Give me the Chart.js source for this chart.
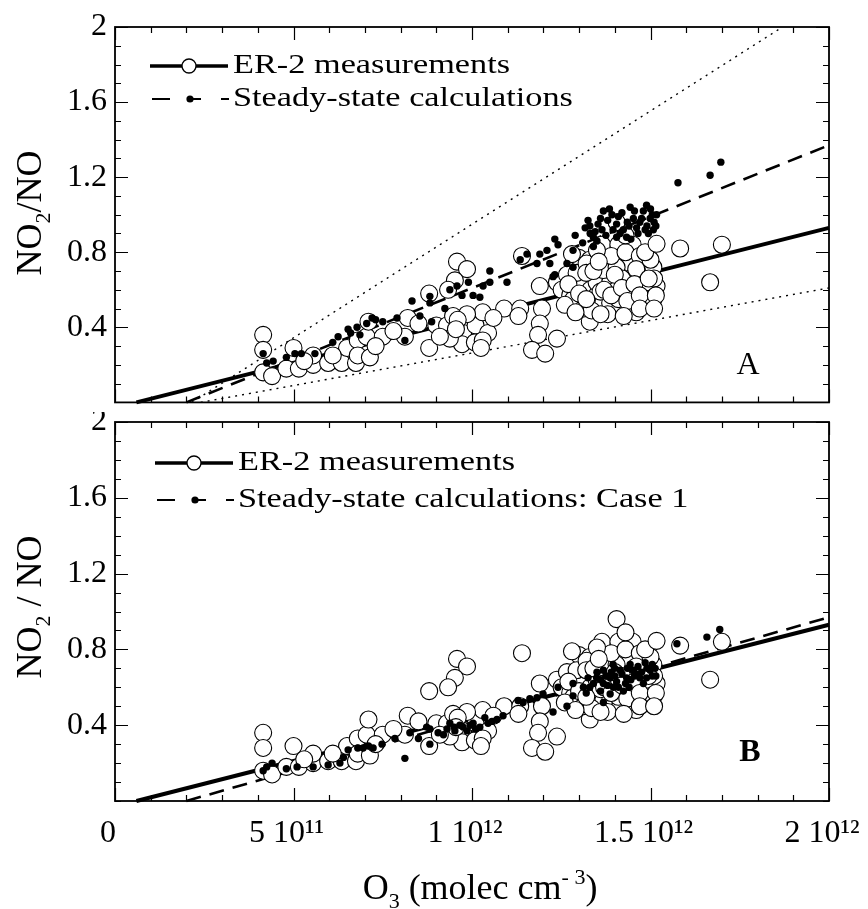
<!DOCTYPE html>
<html><head><meta charset="utf-8">
<script src="https://cdn.jsdelivr.net/npm/chart.js@4.4.1/dist/chart.umd.min.js"></script>
<style>
html,body{margin:0;padding:0;background:#fff;}
#wrap{position:relative;width:868px;height:909px;overflow:hidden;}
canvas{position:absolute;left:0;}
</style></head><body>
<div id="wrap">
<canvas id="cA" width="868" height="412" style="top:0;width:868px;height:412px"></canvas>
<canvas id="cB" width="868" height="497" style="top:412px;width:868px;height:497px"></canvas>
</div>
<script>
// ---------- DATA ----------
// O3 (molec cm-3) and NO2/NO, ER-2 measurements (same in both panels)
const er2X = [4.15e11,4.15e11,4.15e11,4.4e11,5.0e11,4.8e11,5.15e11,5.55e11,5.55e11,5.97e11,6.35e11,6.5e11,6.75e11,6.8e11,7.05e11,7.1e11,6.8e11,7.14e11,7.5e11,8.12e11,8.2e11,8.5e11,8.8e11,8.8e11,5.3e11,6.1e11,7.3e11,7.8e11,
  9.0e11,9.3e11,9.75e11,10.1e11,10.45e11,9.72e11,10.08e11,9.38e11,10.3e11,9.86e11,9.47e11,9.58e11,9.86e11,9.52e11,9.33e11,10.9e11,9.1e11,9.6e11,10.3e11,10.6e11,10.25e11,9.55e11,
  11.35e11,11.3e11,11.4e11,11.96e11,11.9e11,11.85e11,11.68e11,12.05e11,12.38e11,11.9e11,12.38e11,12.66e11,
  13.0e11,13.3e11,13.3e11,12.51e11,12.75e11,12.93e11,13.12e11,13.31e11,13.49e11,13.68e11,13.49e11,13.87e11,14.05e11,14.24e11,14.43e11,14.61e11,14.8e11,14.99e11,15.17e11,14.89e11,15.08e11,14.43e11,14.52e11,13.68e11,14.05e11,13.87e11,14.15e11,14.43e11,14.8e11,15.08e11,12.93e11,13.21e11,12.84e11,13.12e11,13.35e11,14.89e11,14.05e11,13.64e11,14.1e11,14.5e11,12.8e11,
  13.9e11,14.3e11,14.7e11,13.6e11,14.2e11,14.6e11,15.0e11,13.8e11,14.1e11,14.6e11,13.2e11,12.6e11,15.1e11,14.3e11,13.5e11,
  12.7e11,13.0e11,13.2e11,13.4e11,13.7e11,13.9e11,14.0e11,14.2e11,14.35e11,14.55e11,14.7e11,14.95e11,15.15e11,13.6e11,14.25e11,14.7e11,12.9e11,13.55e11,14.85e11,15.1e11,
  15.17e11,15.83e11,17.0e11,16.67e11];
const er2Y = [0.36,0.28,0.16,0.14,0.29,0.18,0.18,0.20,0.25,0.21,0.21,0.29,0.21,0.33,0.35,0.43,0.25,0.24,0.35,0.35,0.45,0.42,0.58,0.29,0.22,0.25,0.30,0.38,
  0.41,0.41,0.37,0.41,0.37,0.31,0.32,0.34,0.48,0.47,0.46,0.75,0.71,0.65,0.60,0.50,0.35,0.44,0.33,0.45,0.29,0.39,
  0.50,0.46,0.78,0.50,0.42,0.36,0.28,0.26,0.34,0.62,0.64,0.68,
  0.77,0.76,0.43,0.60,0.57,0.62,0.64,0.60,0.57,0.53,0.64,0.64,0.60,0.57,0.62,0.585,0.62,0.585,0.62,0.69,0.72,0.74,0.67,0.705,0.72,0.53,0.50,0.51,0.53,0.55,0.69,0.74,0.55,0.50,0.49,0.64,0.96,0.84,0.84,0.84,0.79,
  0.78,0.80,0.78,0.59,0.66,0.71,0.76,0.47,0.55,0.48,0.69,0.52,0.66,0.89,0.81,
  0.63,0.58,0.55,0.70,0.60,0.57,0.68,0.61,0.54,0.63,0.57,0.66,0.57,0.47,0.46,0.50,0.48,0.75,0.80,0.50,
  0.845,0.82,0.84,0.64];
// Steady-state calculations, panel A
const ssAX = [4.15e11,4.25e11,4.43e11,4.8e11,5.04e11,5.22e11,5.6e11,6.1e11,6.25e11,6.53e11,6.78e11,6.86e11,7.05e11,7.2e11,7.5e11,7.9e11,8.12e11,8.32e11,8.54e11,8.82e11,8.87e11,8.82e11,6.6e11,7.3e11,
  9.38e11,9.24e11,9.58e11,9.72e11,9.9e11,10.03e11,10.22e11,10.31e11,10.5e11,10.5e11,10.98e11,
  11.35e11,11.54e11,11.82e11,11.9e11,12.1e11,12.18e11,12.32e11,12.41e11,12.32e11,12.89e11,12.83e11,12.66e11,
  13.17e11,13.25e11,13.31e11,13.53e11,13.68e11,13.64e11,13.92e11,13.95e11,14.05e11,14.24e11,14.33e11,14.43e11,14.52e11,14.61e11,14.8e11,14.89e11,14.99e11,15.08e11,15.17e11,14.94e11,14.05e11,13.5e11,13.4e11,12.83e11,12.27e11,
  13.8e11,14.2e11,14.7e11,15.0e11,14.4e11,13.4e11,14.9e11,15.1e11,13.1e11,
  13.3e11,13.6e11,13.75e11,14.1e11,14.15e11,14.35e11,14.55e11,14.65e11,14.75e11,14.85e11,15.05e11,15.15e11,13.85e11,14.45e11,13.45e11,
  15.77e11,16.67e11,16.97e11];
const ssAY = [0.26,0.21,0.22,0.24,0.26,0.26,0.26,0.32,0.35,0.39,0.40,0.36,0.42,0.45,0.43,0.45,0.33,0.54,0.46,0.565,0.43,0.53,0.37,0.44,
  0.60,0.50,0.62,0.57,0.64,0.57,0.56,0.62,0.70,0.64,0.64,
  0.76,0.79,0.74,0.79,0.81,0.74,0.68,0.84,0.87,0.89,0.81,0.74,
  0.93,0.97,0.90,0.95,1.02,0.92,1.00,0.92,0.95,0.92,0.88,1.04,0.98,0.93,1.02,1.05,0.98,0.92,1.00,0.90,0.88,0.86,0.83,0.72,0.67,
  0.97,1.01,0.96,1.03,0.94,0.88,0.94,0.96,0.85,
  0.94,0.98,0.89,0.99,0.90,0.96,1.02,0.90,0.98,0.92,1.00,0.94,1.03,0.87,0.91,
  1.17,1.21,1.28];
// Steady-state calculations: Case 1, panel B
const ssBX = [4.15e11,4.25e11,4.4e11,4.8e11,5.1e11,5.55e11,5.97e11,6.3e11,6.4e11,6.53e11,6.8e11,6.95e11,7.1e11,7.23e11,7.48e11,8.12e11,7.84e11,8.26e11,8.5e11,8.73e11,8.82e11,
  8.82e11,9.2e11,9.38e11,9.52e11,9.66e11,9.86e11,10.03e11,10.22e11,10.36e11,10.56e11,10.87e11,9.5e11,10.1e11,10.7e11,9.3e11,9.75e11,9.95e11,10.45e11,9.05e11,
  11.29e11,11.43e11,11.62e11,11.82e11,11.99e11,12.27e11,12.41e11,12.66e11,12.83e11,12.83e11,
  13.12e11,13.25e11,13.4e11,13.68e11,13.68e11,13.68e11,13.87e11,13.96e11,14.05e11,14.15e11,14.24e11,14.33e11,14.43e11,14.52e11,14.7e11,14.85e11,14.99e11,15.13e11,14.89e11,13.87e11,13.49e11,
  13.9e11,14.3e11,14.6e11,14.0e11,13.6e11,14.8e11,15.05e11,
  13.3e11,13.5e11,13.6e11,13.75e11,13.8e11,14.0e11,14.1e11,14.2e11,14.35e11,14.45e11,14.55e11,14.65e11,14.75e11,14.9e11,15.05e11,15.15e11,14.4e11,13.95e11,13.2e11,
  15.74e11,16.58e11,16.94e11];
const ssBY = [0.16,0.18,0.20,0.17,0.18,0.18,0.19,0.20,0.23,0.27,0.28,0.28,0.29,0.28,0.30,0.225,0.33,0.36,0.33,0.39,0.30,
  0.38,0.35,0.41,0.37,0.40,0.37,0.41,0.39,0.44,0.42,0.45,0.39,0.38,0.43,0.38,0.39,0.40,0.41,0.36,
  0.53,0.52,0.54,0.545,0.565,0.47,0.60,0.50,0.555,0.62,
  0.60,0.65,0.62,0.69,0.62,0.52,0.65,0.60,0.63,0.69,0.58,0.65,0.72,0.69,0.65,0.73,0.69,0.70,0.65,0.565,0.65,
  0.68,0.62,0.67,0.70,0.58,0.62,0.66,
  0.60,0.68,0.64,0.66,0.61,0.66,0.60,0.67,0.70,0.64,0.66,0.71,0.68,0.70,0.72,0.66,0.60,0.72,0.57,
  0.83,0.865,0.905];
// Fitted / bounding lines (end points)
const er2FitX = [0.6e11, 2e12],  er2FitY = [0, 0.93];
const ssAFitX = [2.0e11, 2e12],  ssAFitY = [0, 1.37];
const ssBFitX = [2.0e11, 2e12],  ssBFitY = [0, 0.97];
const upperX  = [2.15e11, 1.87e12], upperY = [0, 2.0];
const lowerX  = [2.4e11, 2e12],  lowerY = [0, 0.61];
// Axis ticks
const xMajorValues = [0, 5e11, 1e12, 1.5e12, 2e12];
const xTickLabels  = ['0', '5 10\u00B9\u00B9', '1 10\u00B9\u00B2', '1.5 10\u00B9\u00B2', '2 10\u00B9\u00B2'];
const yMajorValues = [0.4, 0.8, 1.2, 1.6, 2];
const yTickLabels  = ['0.4', '0.8', '1.2', '1.6', '2'];

// ---------- HELPERS ----------
const SERIF = "'Liberation Serif','Times New Roman',serif";
const pts = (xs, ys) => xs.map((x, i) => ({x, y: ys[i]}));
const near = (a, b, tol) => Math.abs(a - b) < tol;
function isMajor(v, list, tol) { return list.some(m => near(v, m, tol)); }

function lineDs(xs, ys, width, dash, order) {
  return {data: pts(xs, ys), showLine: true, pointRadius: 0, borderColor: '#000',
          borderWidth: width, borderDash: dash, fill: false, order: order, clip: false};
}
function circleDs(xs, ys) {
  return {data: pts(xs, ys), pointRadius: 8.5, pointBorderWidth: 1.1, pointBackgroundColor: '#fff',
          pointBorderColor: '#000', showLine: false, order: 3};
}
function dotDs(xs, ys) {
  return {data: pts(xs, ys), pointRadius: 3.7, pointBorderWidth: 0, pointBackgroundColor: '#000',
          pointBorderColor: '#000', showLine: false, order: 1};
}

function drawScaledText(ctx, text, x, y, size, sx) {
  ctx.save();
  ctx.font = size + 'px ' + SERIF;
  ctx.textBaseline = 'middle';
  ctx.textAlign = 'left';
  ctx.translate(x, y);
  ctx.scale(sx, 1);
  ctx.fillText(text, 0, 0);
  ctx.restore();
}

function framePlugin(opts) {
  return {
    id: 'frame' + opts.id,
    afterDraw(chart) {
      const {ctx, chartArea: a} = chart;
      const xs = chart.scales.x, ys = chart.scales.y;
      ctx.save();
      ctx.strokeStyle = '#000';
      ctx.fillStyle = '#000';
      // ticks inward on all four sides
      ctx.lineWidth = 1.2;
      ctx.beginPath();
      xs.ticks.forEach(t => {
        const px = Math.round(xs.getPixelForValue(t.value)) + 0.5;
        const L = isMajor(t.value, xMajorValues, 1e9) ? 13 : 6;
        ctx.moveTo(px, a.bottom); ctx.lineTo(px, a.bottom - L);
        ctx.moveTo(px, a.top); ctx.lineTo(px, a.top + L);
      });
      ys.ticks.forEach(t => {
        const py = Math.round(ys.getPixelForValue(t.value)) + 0.5;
        const L = isMajor(t.value, yMajorValues, 1e-6) ? 13 : 6;
        ctx.moveTo(a.left, py); ctx.lineTo(a.left + L, py);
        ctx.moveTo(a.right, py); ctx.lineTo(a.right - L, py);
      });
      ctx.stroke();
      ctx.lineWidth = 1.8;
      ctx.strokeRect(a.left, a.top, a.right - a.left, a.bottom - a.top);

      // legend
      const L0 = opts.legX, r1 = opts.legY1, r2 = opts.legY2;
      ctx.lineWidth = 3.4;
      ctx.beginPath(); ctx.moveTo(L0, r1); ctx.lineTo(L0 + 78, r1); ctx.stroke();
      ctx.beginPath(); ctx.arc(L0 + 39, r1, 7, 0, Math.PI * 2);
      ctx.fillStyle = '#fff'; ctx.fill(); ctx.lineWidth = 1.3; ctx.stroke();
      ctx.fillStyle = '#000';
      ctx.lineWidth = 2.2;
      ctx.beginPath();
      ctx.moveTo(L0 + 2, r2); ctx.lineTo(L0 + 20, r2);
      ctx.moveTo(L0 + 37, r2); ctx.lineTo(L0 + 51, r2);
      ctx.moveTo(L0 + 71, r2); ctx.lineTo(L0 + 79, r2);
      ctx.stroke();
      ctx.beginPath(); ctx.arc(L0 + 40, r2, 3.6, 0, Math.PI * 2); ctx.fill();
      drawScaledText(ctx, 'ER-2 measurements', L0 + 83, r1, 27, 1.27);
      drawScaledText(ctx, opts.legText2, L0 + 83, r2, 27, 1.27);

      // panel letter
      ctx.font = (opts.letterBold ? 'bold ' : '') + '32px ' + SERIF;
      ctx.textAlign = 'center'; ctx.textBaseline = 'middle';
      ctx.fillText(opts.letter, opts.letterX, opts.letterY);

      // y title with subscript
      ctx.save();
      ctx.translate(opts.yTitleX, opts.yTitleY);
      ctx.rotate(-Math.PI / 2);
      const big = '36px ' + SERIF, small = '22px ' + SERIF;
      const parts = [['NO', big, 0], ['2', small, 9], [opts.yTitleRest, big, 0]];
      let tw = 0;
      parts.forEach(p => { ctx.font = p[1]; tw += ctx.measureText(p[0]).width; });
      let cx = -tw / 2;
      ctx.textAlign = 'left'; ctx.textBaseline = 'alphabetic';
      parts.forEach(p => { ctx.font = p[1]; ctx.fillText(p[0], cx, p[2]); cx += ctx.measureText(p[0]).width; });
      ctx.restore();

      // x title (bottom panel only)
      if (opts.xTitle) {
        const parts2 = [['O', big, 0], ['3', small, 9], [' (molec cm', big, 0], ['- 3', small, -15], [')', big, 0]];
        let w = 0;
        parts2.forEach(p => { ctx.font = p[1]; w += ctx.measureText(p[0]).width; });
        let x0 = opts.xTitleX - w / 2;
        ctx.textAlign = 'left'; ctx.textBaseline = 'alphabetic';
        parts2.forEach(p => { ctx.font = p[1]; ctx.fillText(p[0], x0, opts.xTitleY + p[2]); x0 += ctx.measureText(p[0]).width; });
      }
      ctx.restore();
    }
  };
}

function makeOptions(showXLabels, xHeight, padTop) {
  return {
    responsive: false, animation: false, devicePixelRatio: 1, events: [],
    layout: {padding: {left: 0, right: 39, top: padTop, bottom: 0}},
    plugins: {legend: {display: false}, tooltip: {enabled: false}, title: {display: false}},
    scales: {
      x: {
        type: 'linear', min: 0, max: 2e12,
        grid: {display: false, drawTicks: false}, border: {display: false},
        ticks: {
          display: showXLabels, stepSize: 1e11, autoSkip: false, maxRotation: 0, minRotation: 0,
          padding: 13, labelOffset: -7, color: '#000', font: {family: SERIF, size: 32},
          callback: v => { const i = xMajorValues.findIndex(m => near(v, m, 1e9)); return i >= 0 ? xTickLabels[i] : ''; }
        },
        afterFit: s => { s.height = xHeight; s.paddingLeft = 0; s.paddingRight = 0; }
      },
      y: {
        type: 'linear', min: 0, max: 2,
        grid: {display: false, drawTicks: false}, border: {display: false},
        ticks: {
          stepSize: 0.1, autoSkip: false, padding: 8, color: '#000', font: {family: SERIF, size: 32},
          callback: v => { const i = yMajorValues.findIndex(m => near(v, m, 1e-6)); return i >= 0 ? yTickLabels[i] : ''; }
        },
        afterFit: s => { s.width = 115; s.paddingTop = 0; s.paddingBottom = 0; }
      }
    }
  };
}

new Chart(document.getElementById('cA'), {
  type: 'scatter',
  data: {datasets: [
    dotDs(ssAX, ssAY),
    circleDs(er2X, er2Y),
    lineDs(er2FitX, er2FitY, 4, [], 4),
    lineDs(ssAFitX, ssAFitY, 2.6, [15, 9], 4),
    lineDs(upperX, upperY, 1.4, [2, 5], 5),
    lineDs(lowerX, lowerY, 1.4, [2, 5], 5)
  ]},
  options: makeOptions(false, 5, 27),
  plugins: [framePlugin({id: 'A', legX: 150, legY1: 66, legY2: 99, legText2: 'Steady-state calculations',
    letter: 'A', letterBold: false, letterX: 748, letterY: 366, yTitleX: 41, yTitleY: 213, yTitleRest: '/NO'})]
});

new Chart(document.getElementById('cB'), {
  type: 'scatter',
  data: {datasets: [
    dotDs(ssBX, ssBY),
    circleDs(er2X, er2Y),
    lineDs(er2FitX, er2FitY, 4, [], 4),
    lineDs(ssBFitX, ssBFitY, 2.6, [15, 9], 4)
  ]},
  options: makeOptions(true, 108, 10),
  plugins: [framePlugin({id: 'B', legX: 155, legY1: 51, legY2: 88, legText2: 'Steady-state calculations: Case 1',
    letter: 'B', letterBold: true, letterX: 750, letterY: 341, yTitleX: 41, yTitleY: 195, yTitleRest: ' / NO',
    xTitle: true, xTitleX: 480, xTitleY: 487})]
});
</script>
</body></html>
